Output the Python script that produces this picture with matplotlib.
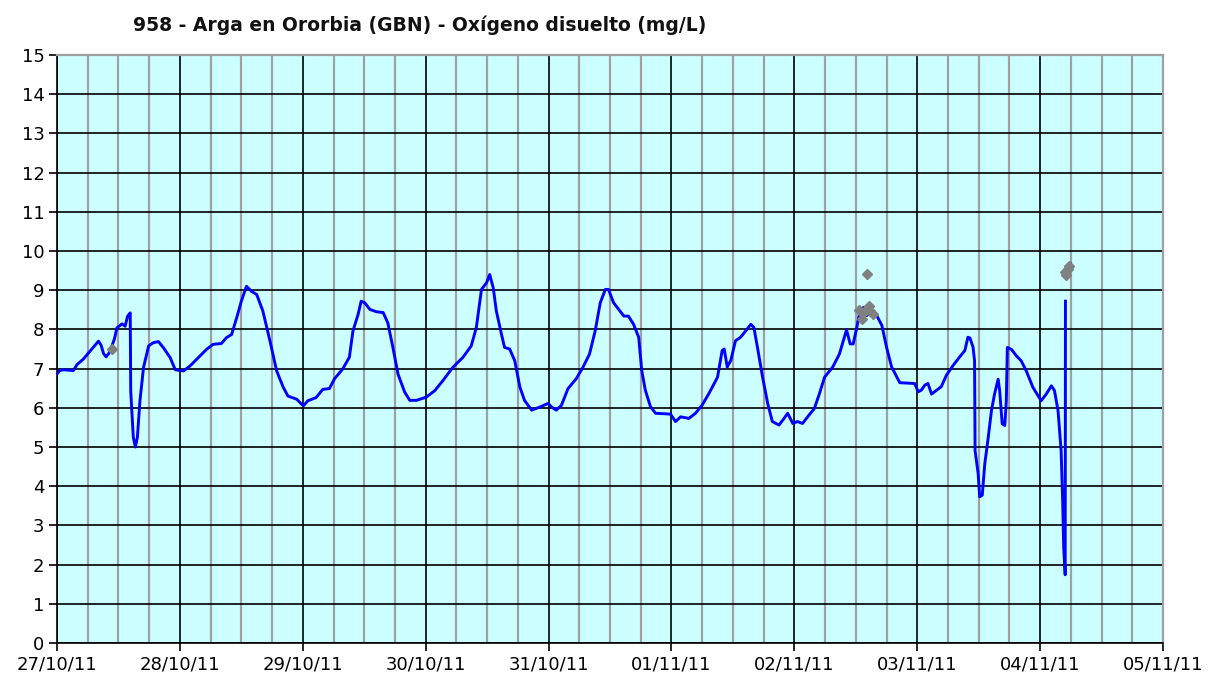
import numpy as np
import pandas as pd
import matplotlib
matplotlib.use("Agg")
import matplotlib.pyplot as plt
import matplotlib.dates as mdates

title = "958 - Arga en Ororbia (GBN) - Oxígeno disuelto (mg/L)"
start_date = "2011-10-27"

# hours since 27/10/11 00:00 and dissolved oxygen (mg/L)
hours = [0.0, 0.5, 1.3, 3.2, 3.9, 5.2, 6.5, 8.1, 8.6, 9.1, 9.6, 10.3, 11.2, 11.7, 12.7, 13.3,
         13.8, 14.3, 14.4, 14.9, 15.3, 15.7, 16.2, 16.9, 17.9, 18.8, 19.8, 20.8, 22.1, 23.1,
         24.7, 26.0, 27.6, 29.2, 30.5, 32.1, 33.1, 34.1, 35.1, 36.0, 37.0, 38.0, 39.0, 40.2,
         41.6, 42.9, 44.2, 45.1, 46.8, 48.1, 49.0, 50.6, 51.9, 53.2, 54.2, 55.8, 57.1, 57.8,
         58.8, 59.4, 60.1, 61.1, 62.4, 63.7, 64.6, 65.6, 66.6, 67.9, 68.9, 70.2, 72.1, 73.8,
         75.4, 77.3, 79.3, 80.9, 81.9, 82.9, 83.9, 84.5, 85.2, 85.8, 86.8, 87.4, 88.4, 89.4,
         90.4, 91.3, 92.7, 94.3, 95.9, 96.6, 97.5, 98.5, 99.8, 101.4, 102.7, 104.0, 105.1,
         106.1, 107.1, 107.7, 108.7, 109.7, 110.7, 111.6, 112.6, 113.6, 114.2, 114.9, 115.9,
         116.9, 119.8, 120.8, 121.8, 123.4, 124.7, 126.0, 127.3, 129.0, 129.9, 130.3, 130.9,
         131.6, 132.5, 133.5, 134.5, 135.5, 136.1, 136.8, 137.8, 138.8, 139.7, 141.0, 142.0,
         142.7, 143.7, 144.6, 145.6, 146.6, 147.9, 148.9, 149.9, 151.5, 152.8, 153.6, 154.2,
         154.9, 155.5, 156.2, 156.7, 157.5, 158.1, 158.8, 160.1, 161.1, 162.0, 163.0, 164.0,
         164.6, 167.5, 168.2, 168.8, 169.5, 170.1, 170.8, 171.8, 172.7, 173.7, 175.0, 176.3,
         177.3, 177.9, 178.3, 178.9, 179.2, 179.3, 179.9, 180.2, 180.7, 181.2, 181.8, 182.5,
         183.1, 183.8, 184.1, 184.6, 185.1, 185.4, 185.6, 186.4, 187.4, 188.3, 189.3, 190.6,
         192.2, 193.2, 194.2, 194.8, 195.5, 196.1, 196.4, 196.6, 196.9, 196.95, 197.3,
         197.7, 197.9]
oxygen = [6.86, 6.95, 6.97, 6.95, 7.10, 7.25, 7.45, 7.70, 7.60, 7.38, 7.30, 7.42, 7.75, 8.04, 8.14, 8.08,
          8.34, 8.42, 6.43, 5.25, 5.00, 5.25, 6.18, 7.03, 7.58, 7.66, 7.69, 7.53, 7.28, 6.97,
          6.94, 7.07, 7.28, 7.49, 7.62, 7.64, 7.79, 7.87, 8.30, 8.72, 9.10, 8.97, 8.89, 8.47,
          7.70, 6.94, 6.52, 6.30, 6.22, 6.05, 6.18, 6.26, 6.47, 6.49, 6.74, 6.99, 7.29, 7.96,
          8.38, 8.72, 8.68, 8.51, 8.45, 8.43, 8.17, 7.54, 6.86, 6.40, 6.19, 6.19, 6.27, 6.44,
          6.70, 7.03, 7.29, 7.58, 8.05, 9.02, 9.19, 9.40, 9.06, 8.47, 7.88, 7.54, 7.50, 7.20,
          6.53, 6.19, 5.94, 6.02, 6.11, 6.02, 5.94, 6.06, 6.49, 6.74, 7.03, 7.37, 7.96,
          8.68, 9.02, 9.02, 8.68, 8.51, 8.34, 8.34, 8.13, 7.80, 6.95, 6.45, 6.03,
          5.86, 5.84, 5.65, 5.77, 5.73, 5.86, 6.07, 6.36, 6.78, 7.46, 7.50, 7.04,
          7.21, 7.71, 7.80, 7.96, 8.13, 8.05, 7.54, 6.78, 6.11, 5.65, 5.56, 5.73,
          5.86, 5.60, 5.65, 5.60, 5.77, 5.98, 6.36, 6.78, 7.04, 7.37, 7.72, 7.99,
          7.63, 7.63, 8.05, 8.39, 8.56, 8.35, 8.43, 8.35, 8.10, 7.55, 7.04, 6.79,
          6.64, 6.62, 6.41, 6.45, 6.58, 6.62, 6.35, 6.45, 6.54, 6.83, 7.08, 7.30,
          7.46, 7.80, 7.78, 7.55, 7.20, 4.91, 4.32, 3.73, 3.77, 4.58, 5.17, 5.93,
          6.35, 6.73, 6.44, 5.59, 5.55, 6.18, 7.54, 7.49, 7.32, 7.20, 6.94, 6.52,
          6.18, 6.35, 6.56, 6.44, 5.93, 4.91, 3.65, 2.46, 1.74, 8.72, np.nan,
          9.60, 9.68]

# flagged values (grey diamonds)
flag_hours = [10.7, 156.7, 157.2, 157.6, 158.5, 158.8, 159.3, 158.1, 196.9, 197.1, 197.4, 197.6]
flag_values = [7.50, 8.49, 8.27, 8.45, 8.60, 8.48, 8.39, 9.41, 9.47, 9.40, 9.53, 9.62]

y_ticks = list(range(0, 16))
n_days = 9

base = pd.Timestamp(start_date)
t = base + pd.to_timedelta(hours, unit="h")
tf = base + pd.to_timedelta(flag_hours, unit="h")

plt.rcParams['font.family'] = ['DejaVu Sans']

fig = plt.figure(figsize=(12.21, 6.82), dpi=100)
ax = fig.add_axes([57/1221, 39/682, 1106/1221, 588/682])
ax.set_facecolor("#CCFFFF")

ax.plot(t, oxygen, color="#0000FF", lw=2.1, zorder=3)
ax.plot(tf, flag_values, linestyle="none", marker="D", ms=5, color="#808080",
        markeredgecolor="#808080", zorder=4)

ax.set_xlim(base, base + pd.Timedelta(days=n_days))
ax.set_ylim(0, 15)
ax.set_yticks(y_ticks)

ax.xaxis.set_major_locator(mdates.DayLocator())
ax.xaxis.set_major_formatter(mdates.DateFormatter("%d/%m/%y"))
ax.xaxis.set_minor_locator(mdates.HourLocator(byhour=[6, 12, 18]))

ax.grid(which="minor", axis="x", color="#A0A0A0", lw=1.6, zorder=1)
ax.grid(which="major", axis="x", color="black", lw=1.2, zorder=1)
ax.grid(which="major", axis="y", color="black", lw=1.2, zorder=1)
ax.set_axisbelow(True)

ax.tick_params(axis="both", which="major", direction="out", length=6, width=1.2,
               labelsize=13, color="black", pad=3)
ax.tick_params(axis="x", which="minor", length=0)

for s in ["left", "bottom"]:
    ax.spines[s].set_color("black")
    ax.spines[s].set_linewidth(1.2)
for s in ["top", "right"]:
    ax.spines[s].set_color("#A0A0A0")
    ax.spines[s].set_linewidth(1.6)

fig.text(133/1221, 1 - 31/682, title, fontsize=13.5, fontweight="bold",
         ha="left", va="baseline", color="#111111")

fig.savefig("out.png", dpi=100)
